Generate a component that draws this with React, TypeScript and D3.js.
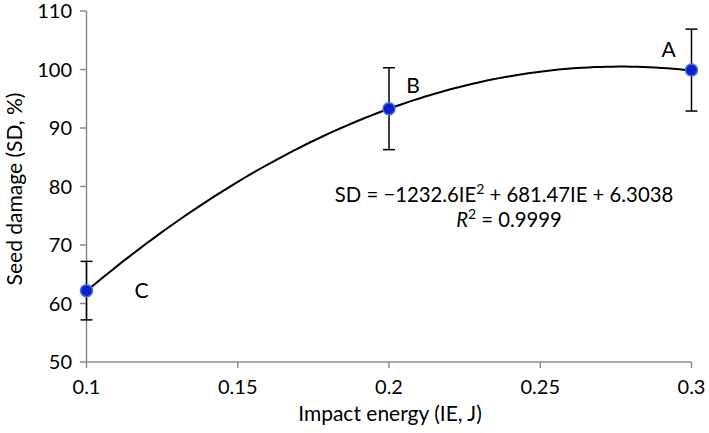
import React from "react";
import * as d3 from "d3";

const energies = [0.1, 0.2, 0.3];
const damage = [62.2, 93.3, 99.9];
const errors = [5, 7, 7];
const letters = ["C", "B", "A"];
const xTicks = [0.1, 0.15, 0.2, 0.25, 0.3];
const yTicks = [50, 60, 70, 80, 90, 100, 110];
const coefA = -1232.6;
const coefB = 681.47;
const coefC = 6.3038;

const W = 709, H = 433;
const FONT = "Lato, 'Open Sans', sans-serif";

export default function App() {
  const x = d3.scaleLinear().domain([0.1, 0.3]).range([86.5, 691.5]);
  const y = d3.scaleLinear().domain([50, 110]).range([362, 11]);
  const curvePts = d3.range(0, 101).map((i) => {
    const e = 0.1 + (0.2 * i) / 100;
    return [e, coefA * e * e + coefB * e + coefC] as [number, number];
  });
  const line = d3.line<[number, number]>().x((d) => x(d[0])).y((d) => y(d[1])).curve(d3.curveLinear);
  const labelOffsets = [
    { dx: 55, dy: 7 },
    { dx: 24, dy: -16 },
    { dx: -23, dy: -13 },
  ];
  return (
    <svg width={W} height={H} style={{ position: "absolute", left: 0, top: 0, background: "#fff" }}>
      {/* axes */}
      <line x1={x(0.1)} x2={x(0.3)} y1={362} y2={362} stroke="#8c8c8c" strokeWidth={1.5} />
      <line x1={86.5} x2={86.5} y1={11} y2={362} stroke="#8c8c8c" strokeWidth={1.5} />
      {xTicks.map((t) => (
        <g key={"x" + t}>
          <line x1={x(t)} x2={x(t)} y1={362} y2={368} stroke="#8c8c8c" strokeWidth={1.5} />
          <text x={x(t)} y={394} textAnchor="middle" fontFamily={FONT} fontSize={20} fill="#000">
            {String(t)}
          </text>
        </g>
      ))}
      {yTicks.map((t) => (
        <g key={"y" + t}>
          <line x1={80} x2={86.5} y1={y(t)} y2={y(t)} stroke="#8c8c8c" strokeWidth={1.5} />
          <text x={72} y={y(t)} dy="0.36em" textAnchor="end" fontFamily={FONT} fontSize={20} fill="#000">
            {t}
          </text>
        </g>
      ))}
      <text x={390} y={421} textAnchor="middle" fontFamily={FONT} fontSize={21} fill="#000">
        Impact energy (IE, J)
      </text>
      <text
        transform={`translate(14,${189}) rotate(-90)`}
        textAnchor="middle"
        dy="0.36em"
        fontFamily={FONT}
        fontSize={21}
        fill="#000"
      >
        Seed damage (SD, %)
      </text>
      {/* trendline */}
      <path d={line(curvePts) || ""} fill="none" stroke="#000" strokeWidth={2} />
      {/* error bars */}
      {energies.map((e, i) => (
        <g key={"e" + i} stroke="#000" strokeWidth={1.5}>
          <line x1={x(e)} x2={x(e)} y1={y(damage[i] + errors[i])} y2={y(damage[i] - errors[i])} />
          <line x1={x(e) - 6} x2={x(e) + 6} y1={y(damage[i] + errors[i])} y2={y(damage[i] + errors[i])} />
          <line x1={x(e) - 6} x2={x(e) + 6} y1={y(damage[i] - errors[i])} y2={y(damage[i] - errors[i])} />
        </g>
      ))}
      {/* points */}
      {energies.map((e, i) => (
        <circle key={"p" + i} cx={x(e)} cy={y(damage[i])} r={6} fill="#0a1fd0" stroke="#4a6ee8" strokeWidth={1.5} />
      ))}
      {energies.map((e, i) => (
        <text
          key={"l" + i}
          x={x(e) + labelOffsets[i].dx}
          y={y(damage[i]) + labelOffsets[i].dy}
          textAnchor="middle"
          fontFamily={FONT}
          fontSize={21}
          fill="#000"
        >
          {letters[i]}
        </text>
      ))}
      {/* equation */}
      <text x={504} y={202} textAnchor="middle" fontFamily={FONT} fontSize={20.3} fill="#000">
        SD = −1232.6IE<tspan dy={-8} fontSize={14}>2</tspan>
        <tspan dy={8}> + 681.47IE + 6.3038</tspan>
      </text>
      <text x={509} y={227} textAnchor="middle" fontFamily={FONT} fontSize={20.3} fill="#000">
        <tspan fontStyle="italic">R</tspan>
        <tspan dy={-8} fontSize={14}>2</tspan>
        <tspan dy={8}> = 0.9999</tspan>
      </text>
    </svg>
  );
}
